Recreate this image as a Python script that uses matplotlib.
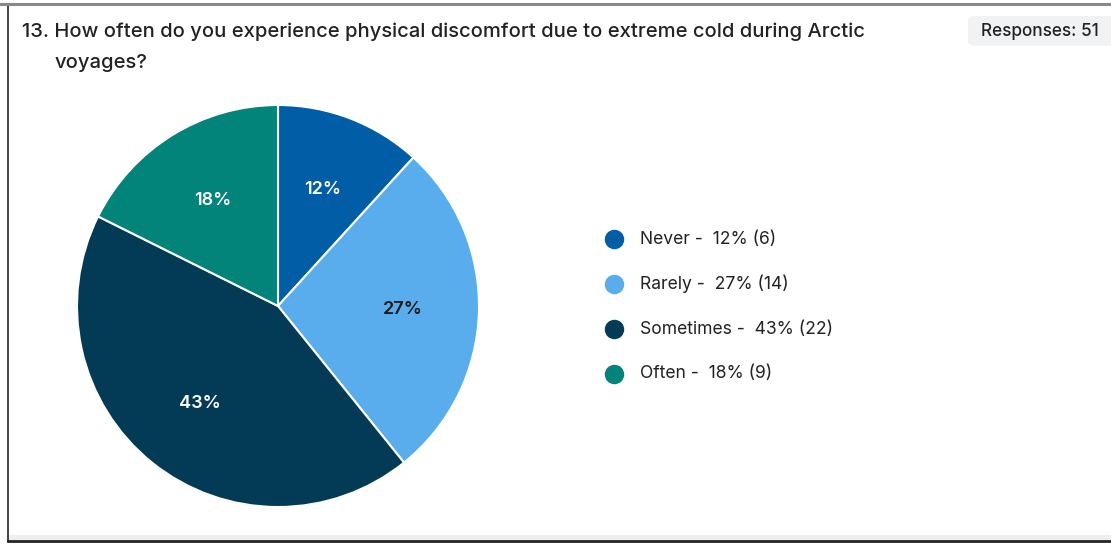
import matplotlib
matplotlib.use("Agg")
import matplotlib.pyplot as plt
import numpy as np
from matplotlib.patches import FancyBboxPatch, Rectangle
from matplotlib.lines import Line2D

W, H = 1111, 544
DPI = 100

categories = ["Never", "Rarely", "Sometimes", "Often"]
counts = [6, 14, 22, 9]
percents = [12, 27, 43, 18]
colors = ["#015DA5", "#59ADEC", "#033A55", "#02847A"]
label_colors = ["white", "#1a1a1a", "white", "white"]
title = "13. How often do you experience physical discomfort due to extreme cold during Arctic"
title_cont = "voyages?"
responses = 51

plt.rcParams["font.family"] = ["Inter", "DejaVu Sans"]

fig = plt.figure(figsize=(W / DPI, H / DPI), dpi=DPI)
fig.patch.set_facecolor("white")


def fx(px):
    return px / W


def fy(py):
    return 1 - py / H


# outer frame
fig.add_artist(Line2D([fx(8), fx(8)], [fy(5), fy(541)], color="#222222", lw=1.2))
fig.add_artist(Line2D([0, 1], [fy(4), fy(4)], color="#8a8a8a", lw=2.2))
fig.add_artist(Rectangle((fx(8), fy(540)), 1 - fx(8), fy(535) - fy(540),
                         transform=fig.transFigure, facecolor="#eeeeee", edgecolor="none"))
fig.add_artist(Line2D([fx(8), 1], [fy(541), fy(541)], color="#222222", lw=2.0))

# title
fig.text(fx(22), fy(32), title, fontsize=14.5, color="#222222", va="center", ha="left",
         fontweight="medium")
fig.text(fx(55), fy(63), title_cont, fontsize=14.5, color="#222222", va="center", ha="left",
         fontweight="medium")

# responses badge
badge = FancyBboxPatch((fx(968), fy(46)), fx(1150) - fx(968), fy(16) - fy(46),
                       boxstyle="round,pad=0,rounding_size=0.008",
                       transform=fig.transFigure, facecolor="#f1f2f4", edgecolor="none")
fig.add_artist(badge)
fig.text(fx(981), fy(31.5), f"Responses: {responses}", fontsize=12.4, color="#222222",
         va="center", ha="left", fontweight="medium")

# pie
cx, cy, r = 278, 306, 201
ax = fig.add_axes([fx(cx - r), fy(cy + r), fx(2 * r), (2 * r) / H])
wedges, _ = ax.pie(counts, colors=colors, startangle=90, counterclock=False,
                   wedgeprops=dict(edgecolor="white", linewidth=1.5))
for w, pct, lc in zip(wedges, percents, label_colors):
    ang = np.deg2rad((w.theta1 + w.theta2) / 2)
    ax.text(0.62 * np.cos(ang), 0.62 * np.sin(ang), f"{pct}%", ha="center", va="center",
            fontsize=13, color=lc, fontweight="semibold")
ax.set_xlim(-1, 1)
ax.set_ylim(-1, 1)
ax.set_aspect("equal")
ax.axis("off")

# legend
leg_y = [239, 284, 329, 374]
for cat, n, pct, col, y in zip(categories, counts, percents, colors, leg_y):
    fig.add_artist(Line2D([fx(614)], [fy(y)], marker="o", markersize=13,
                          markerfacecolor=col, markeredgecolor=col, linestyle="none"))
    fig.text(fx(640), fy(y), f"{cat} -  {pct}% ({n})", fontsize=12.6, color="#222222",
             va="center", ha="left")

fig.savefig("out.png", dpi=DPI, facecolor="white")
